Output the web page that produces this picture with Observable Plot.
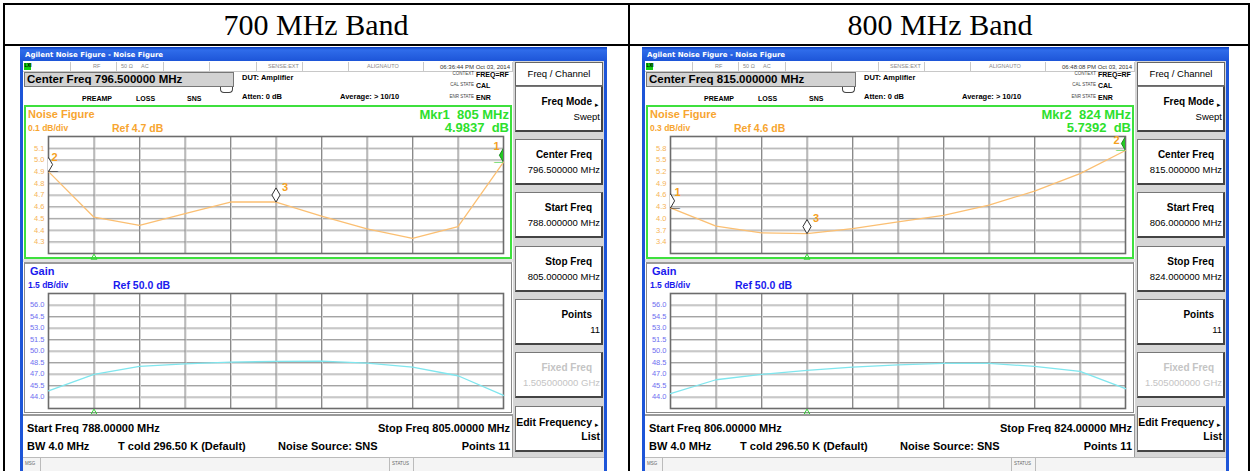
<!DOCTYPE html>
<html><head><meta charset="utf-8">
<script src="https://cdn.jsdelivr.net/npm/d3@7"></script>
<script src="https://cdn.jsdelivr.net/npm/@observablehq/plot@0.6"></script>
<style>
body{margin:0;background:#fff;}
#root{position:relative;width:1252px;height:471px;overflow:hidden;font-family:Arial,"Liberation Sans",sans-serif;}
.t{position:absolute;white-space:pre;line-height:1;}
svg{position:absolute;}
</style></head><body><div id="root"></div>
<script>
// ---------- data ----------
const bandTitles = ["700 MHz Band", "800 MHz Band"];
const freq700 = [788, 789.7, 791.4, 793.1, 794.8, 796.5, 798.2, 799.9, 801.6, 803.3, 805];
const nf700   = [4.90, 4.51, 4.44, 4.54, 4.64, 4.64, 4.52, 4.41, 4.33, 4.43, 4.98];
const gain700 = [44.8, 46.95, 47.99, 48.33, 48.55, 48.64, 48.68, 48.42, 47.9, 46.77, 44.2];
const freq800 = [806, 807.8, 809.6, 811.4, 813.2, 815, 816.8, 818.6, 820.4, 822.2, 824];
const nf800   = [4.27, 3.80, 3.63, 3.61, 3.74, 3.91, 4.08, 4.34, 4.70, 5.15, 5.74];
const gain800 = [44.43, 46.25, 46.95, 47.47, 47.9, 48.2, 48.38, 48.38, 47.99, 47.34, 45.08];
const nfTicks700 = [4.3, 4.4, 4.5, 4.6, 4.7, 4.8, 4.9, 5.0, 5.1];
const nfTicks800 = [3.4, 3.7, 4.0, 4.3, 4.6, 4.9, 5.2, 5.5, 5.8];
const gainTicks = [44.0, 45.5, 47.0, 48.5, 50.0, 51.5, 53.0, 54.5, 56.0];
const nfDomain700 = [4.2, 5.2];
const nfDomain800 = [3.1, 6.1];
const gainDomain = [42.5, 57.5];
const markerIdx700 = [0, 5, 10], markerLbl700 = ["2", "3", "1"];
const markerIdx800 = [0, 3, 10], markerLbl800 = ["1", "3", "2"];
const centerFreqs = ["796.500000 MHz", "815.000000 MHz"];
const startFreqs = ["788.000000 MHz", "806.000000 MHz"];
const stopFreqs = ["805.000000 MHz", "824.000000 MHz"];
const startFooter = ["Start Freq 788.00000 MHz", "Start Freq 806.00000 MHz"];
const stopFooter = ["Stop Freq 805.00000 MHz", "Stop Freq 824.00000 MHz"];
const timeStamps = ["06:36:44 PM Oct 03, 2014", "06:48:08 PM Oct 03, 2014"];
const nfScaleTxt = ["0.1 dB/div", "0.3 dB/div"];
const nfRefTxt = ["Ref 4.7 dB", "Ref 4.6 dB"];
const mkrTxt = ["Mkr1  805 MHz", "Mkr2  824 MHz"];
const mkrVal = ["4.9837  dB", "5.7392  dB"];
const arrowIdx = [1, 3];

// ---------- helpers ----------
const root = document.getElementById("root");
function box(x, y, w, h, style) {
  const d = document.createElement("div");
  d.style.cssText = `position:absolute;left:${x}px;top:${y}px;width:${w}px;height:${h}px;box-sizing:border-box;${style || ""}`;
  root.appendChild(d); return d;
}
function txt(x, yc, s, size, color, opt = {}) {
  const d = document.createElement("div");
  d.className = "t"; d.textContent = s;
  let st = `left:${x}px;top:${yc - size * 0.5}px;font-size:${size}px;color:${color};`;
  if (opt.bold) st += "font-weight:bold;";
  if (opt.right) st += "transform:translateX(-100%);";
  if (opt.center) st += "transform:translateX(-50%);";
  if (opt.font) st += `font-family:${opt.font};`;
  d.style.cssText = st; root.appendChild(d); return d;
}

function chart(o) {
  const ml = 34, mr = 12, mt = 20, mb = 8;
  const data = o.freqs.map((f, i) => ({f, v: o.vals[i]}));
  const [y0d, y1d] = o.yDomain;
  const yGrid = d3.range(1, 10).map(i => y0d + i * (y1d - y0d) / 10);
  const inner = o.freqs.slice(1, -1);
  const marks = [
    Plot.ruleY(yGrid, {y: d => d, stroke: "#d8d8d8", dy: 1}),
    Plot.ruleY(yGrid, {y: d => d, stroke: "#a4a4a4"}),
    Plot.ruleX(inner, {x: d => d, stroke: "#d4d4d4", dx: 1}),
    Plot.ruleX(inner, {x: d => d, stroke: "#8a8a8a"}),
    Plot.frame({stroke: "#6c6c6c", strokeWidth: 1.6}),
    Plot.line(data, {x: "f", y: "v", stroke: o.lineColor, strokeWidth: 1.3}),
    Plot.text(o.yTicks, {y: d => d, frameAnchor: "left", dx: -4, textAnchor: "end", text: d => d.toFixed(1), fill: o.labelColor, fontSize: 7.5}),
    Plot.dot([o.freqs[o.arrow]], {x: d => d, frameAnchor: "bottom", symbol: "triangle", r: 2.2, dy: 4, stroke: "#3c3", fill: "none", strokeWidth: 1})
  ];
  if (o.markers) {
    const last = o.freqs.length - 1;
    o.markers.idx.forEach((mi, k) => {
      const active = mi === o.markers.active;
      const m = [{f: o.freqs[mi], v: o.vals[mi]}];
      if (mi === 0 || mi === last)
        marks.push(Plot.text(m, {x: "f", y: "v", text: () => "—", dx: mi === 0 ? 5 : -5, fill: active ? "#2c2" : "#222", fontSize: 9}));
      marks.push(Plot.dot(m, {x: "f", y: "v", symbol: "diamond", r: 4.3, dy: -7, stroke: active ? "#1a8a1a" : "#333", fill: active ? "#2c2" : "white", strokeWidth: 1, clip: true}));
      const lp = o.markers.lab[k];
      marks.push(Plot.text(m, {x: "f", y: "v", text: () => o.markers.lbl[k], dx: lp[0], dy: lp[1], fill: "#f5a11e", fontSize: 11, fontWeight: "bold"}));
    });
  }
  const svg = Plot.plot({
    width: o.w + ml + mr, height: o.h + mt + mb,
    marginLeft: ml, marginRight: mr, marginTop: mt, marginBottom: mb,
    x: {type: "linear", domain: [o.freqs[0], o.freqs[o.freqs.length - 1]], axis: null},
    y: {type: "linear", domain: o.yDomain, axis: null},
    style: {background: "transparent", overflow: "visible", fontFamily: "Arial, 'Liberation Sans', sans-serif"},
    marks
  });
  svg.style.left = (o.x0 - ml) + "px";
  svg.style.top = (o.y0 - mt) + "px";
  root.appendChild(svg);
}

// ---------- table ----------
box(3, 3, 1247, 480, "border:2px solid #000;");
box(3, 44, 1247, 2, "background:#000;");
box(628, 3, 2, 480, "background:#000;");
txt(316, 25, bandTitles[0], 30, "#000", {center: true, font: "'Liberation Serif','Times New Roman',serif"});
txt(940, 25, bandTitles[1], 30, "#000", {center: true, font: "'Liberation Serif','Times New Roman',serif"});

// ---------- instrument screens ----------
const bands = [
  {ox: 0, freqs: freq700, nf: nf700, gain: gain700, nfDomain: nfDomain700, nfTicks: nfTicks700,
   markers: {idx: markerIdx700, lbl: markerLbl700, active: 10, lab: [[6, -14], [9, -15], [-7, -16]]}},
  {ox: 622, freqs: freq800, nf: nf800, gain: gain800, nfDomain: nfDomain800, nfTicks: nfTicks800,
   markers: {idx: markerIdx800, lbl: markerLbl800, active: 10, lab: [[7, -15], [9, -15], [-9, -10]]}}
];

bands.forEach((b, bi) => {
  const X = b.ox;
  // window frame + title bar
  box(X + 20, 47, 587, 430, "background:linear-gradient(#0b3fc0 0px,#2f6cea 3px,#1d55d8 14px,#1d55d8 100%);");
  box(X + 23, 61, 581, 420, "background:#fff;");
  txt(X + 25, 55, "Agilent Noise Figure - Noise Figure", 7, "#fff", {bold: true, font: "Tahoma,'DejaVu Sans',sans-serif"});
  // status row
  box(X + 23, 62, 490, 10, "border-bottom:1px solid #c8c8c8;");
  box(X + 24, 63, 7, 7, "background:#1c1;");
  txt(X + 24.5, 66.5, "LXI", 4.5, "#000", {bold: true});
  [70, 116, 163, 209, 256, 302, 348, 423, 512].forEach(v => box(X + v, 62, 1, 10, "background:#c8c8c8;"));
  txt(X + 93, 67, "RF", 5.5, "#888");
  txt(X + 121, 67, "50 Ω", 5.5, "#888");
  txt(X + 141, 67, "AC", 5.5, "#888");
  txt(X + 268, 67, "SENSE:EXT", 5.5, "#888");
  txt(X + 367, 67, "ALIGNAUTO", 5.5, "#888");
  txt(X + 510, 67, timeStamps[bi], 6, "#333", {right: true});
  // center freq box
  box(X + 24, 72, 210, 15, "background:#d2d2d2;border:1px solid #777;");
  txt(X + 27, 79.5, "Center Freq " + centerFreqs[bi], 11.5, "#000", {bold: true});
  box(X + 220, 87, 13, 6, "border:1px solid #444;border-top:none;border-radius:0 0 4px 4px;");
  txt(X + 242, 78, "DUT: Amplifier", 7.5, "#000", {bold: true});
  txt(X + 82, 98, "PREAMP", 7, "#000", {bold: true});
  txt(X + 136, 98, "LOSS", 7, "#000", {bold: true});
  txt(X + 187, 98, "SNS", 7, "#000", {bold: true});
  txt(X + 242, 97, "Atten: 0 dB", 7.5, "#000", {bold: true});
  txt(X + 340, 97, "Average: > 10/10", 7.5, "#000", {bold: true});
  txt(X + 474, 74.5, "CONTEXT", 4.5, "#444", {right: true});
  txt(X + 476, 74.5, "FREQ=RF", 7, "#000", {bold: true});
  txt(X + 474, 85, "CAL STATE", 4.5, "#444", {right: true});
  txt(X + 476, 85, "CAL", 7, "#000", {bold: true});
  txt(X + 474, 97, "ENR STATE", 4.5, "#444", {right: true});
  txt(X + 476, 97, "ENR", 7, "#000", {bold: true});

  // NF panel
  box(X + 24, 105, 488, 154, "border:2px solid #3ee03e;");
  txt(X + 28, 114, "Noise Figure", 11, "#f7a530", {bold: true});
  txt(X + 28, 128, nfScaleTxt[bi], 8.5, "#f7a530", {bold: true});
  txt(X + 112, 128, nfRefTxt[bi], 10.5, "#f7a530", {bold: true});
  txt(X + 509, 114, mkrTxt[bi], 13, "#2de02d", {bold: true, right: true});
  txt(X + 509, 127, mkrVal[bi], 13, "#2de02d", {bold: true, right: true});
  box(X + 23, 259, 490, 3, "background:#e2e2e2;");
  // Gain panel
  box(X + 24, 262, 488, 151, "border:1px solid #8a8a8a;border-top:2px solid #9a9a9a;");
  txt(X + 30, 271, "Gain", 11, "#1a1aee", {bold: true});
  txt(X + 28, 285, "1.5 dB/div", 8.5, "#1a1aee", {bold: true});
  txt(X + 113, 285, "Ref 50.0 dB", 10.5, "#1a1aee", {bold: true});

  chart({x0: X + 48, y0: 136, w: 455, h: 117, freqs: b.freqs, vals: b.nf, yDomain: b.nfDomain, yTicks: b.nfTicks,
         lineColor: "#fbbf72", labelColor: "#f6b458", arrow: arrowIdx[bi], markers: b.markers});
  chart({x0: X + 48, y0: 293, w: 455, h: 115, freqs: b.freqs, vals: b.gain, yDomain: gainDomain, yTicks: gainTicks,
         lineColor: "#7fe6ee", labelColor: "#6f6ff0", arrow: arrowIdx[bi]});

  // footer
  box(X + 23, 414, 490, 43, "border-top:2px solid #9a9a9a;border-right:1px solid #9a9a9a;");
  txt(X + 27, 428, startFooter[bi], 11, "#000", {bold: true});
  txt(X + 510, 428, stopFooter[bi], 11, "#000", {bold: true, right: true});
  txt(X + 27, 446, "BW 4.0 MHz", 11, "#000", {bold: true});
  txt(X + 118, 446, "T cold 296.50 K (Default)", 11, "#000", {bold: true});
  txt(X + 278, 446, "Noise Source: SNS", 11, "#000", {bold: true});
  txt(X + 510, 446, "Points 11", 11, "#000", {bold: true, right: true});
  // status bar
  box(X + 23, 457, 581, 20, "background:#f4f4f4;border-top:1px solid #bbb;");
  box(X + 40, 457, 1, 14, "background:#bbb;");
  box(X + 389, 457, 1, 14, "background:#bbb;");
  box(X + 413, 457, 1, 14, "background:#bbb;");
  txt(X + 25, 464, "MSG", 4.5, "#666");
  txt(X + 392, 464, "STATUS", 4.5, "#666");

  // soft keys
  box(X + 513, 61, 91, 396, "background:#d6d6d6;");
  box(X + 515, 62, 88, 24, "background:#fff;border:1px solid #666;");
  txt(X + 559, 73.5, "Freq / Channel", 9.5, "#000", {center: true});
  const keys = [
    ["Freq Mode", "Swept", 86, true, false],
    ["Center Freq", centerFreqs[bi], 139, false, false],
    ["Start Freq", startFreqs[bi], 192, false, false],
    ["Stop Freq", stopFreqs[bi], 246, false, false],
    ["Points", "11", 299, false, false],
    ["Fixed Freq", "1.505000000 GHz", 352, false, true],
    ["Edit Frequency", "List", 406, true, false]
  ];
  keys.forEach(([lab, val, top, arrow, dim]) => {
    box(X + 515, top, 88, 46, "background:#fff;border:1px solid #777;border-right:2px solid #444;border-bottom:2px solid #444;");
    const c = dim ? "#c4c4c4" : "#000";
    const big = lab === "Edit Frequency";
    txt(X + 592, top + 16, lab, big ? 10.5 : 10, c, {bold: true, right: true});
    txt(X + 600, top + 30.5, val, big ? 10.5 : 9.5, c, {right: true, bold: big});
    if (arrow) txt(X + 595, top + 18, "▸", 7, "#000");
  });
});
</script></body></html>
